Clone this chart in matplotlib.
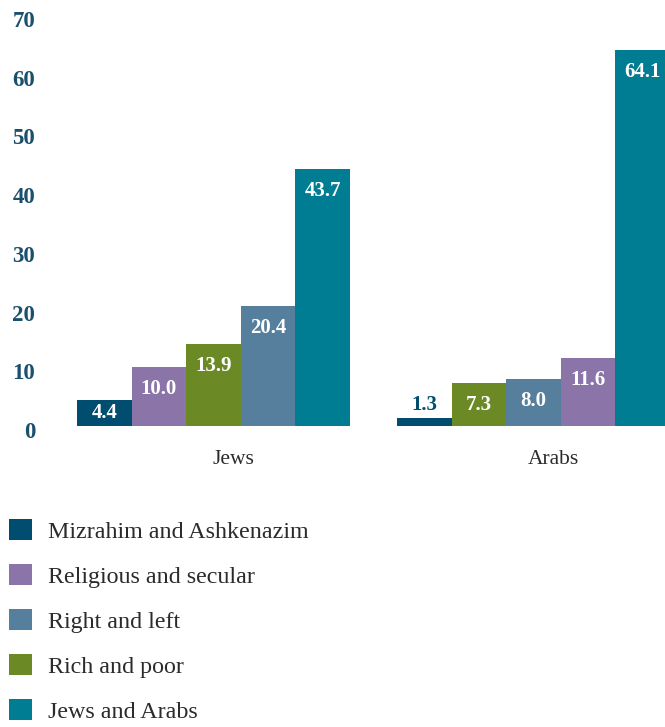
import matplotlib
matplotlib.use("Agg")
import matplotlib.pyplot as plt
from matplotlib.patches import Patch
from matplotlib.transforms import ScaledTranslation

# Share of respondents naming each tension as the most severe, by population group
groups = ["Jews", "Arabs"]
tensions = ["Mizrahim and Ashkenazim", "Religious and secular", "Right and left",
            "Rich and poor", "Jews and Arabs"]
jews_values = [4.4, 10.0, 20.4, 13.9, 43.7]
arabs_values = [1.3, 11.6, 8.0, 7.3, 64.1]
yticks = [0, 10, 20, 30, 40, 50, 60, 70]

colors = ["#004d70", "#8a74a8", "#557f9d", "#6b8a25", "#007c93"]
axis_color = "#1b4f6e"
text_color = "#2b2b2b"

W, H = 665, 727
fig = plt.figure(figsize=(W / 100, H / 100), dpi=100)
ax = fig.add_axes([45 / W, (H - 426) / H, 620 / W, 411 / H])

group_gap = 5.86
bar_w = 1.0
for g, (name, vals) in enumerate(zip(groups, [jews_values, arabs_values])):
    # bars within each group are ordered from smallest to largest
    order = sorted(range(len(vals)), key=lambda i: vals[i])
    for pos, i in enumerate(order):
        x = g * group_gap + pos
        v = vals[i]
        ax.bar(x, v, width=bar_w, color=colors[i], linewidth=0)
        h_px = v * 411 / 70
        if h_px < 20:
            ax.annotate(f"{v:.1f}", xy=(x, v), xytext=(0, 13 * 0.72),
                        textcoords="offset points", ha="center", va="center",
                        fontsize=15, fontweight="bold", color=colors[0],
                        family="Liberation Serif")
        else:
            off = min(22, h_px / 2)
            ax.annotate(f"{v:.1f}", xy=(x, v), xytext=(0, -off * 0.72),
                        textcoords="offset points", ha="center", va="center",
                        fontsize=15, fontweight="bold", color="white",
                        family="Liberation Serif")

ax.set_ylim(0, 70)
ax.set_xlim(-1.086, 10.27)
ax.set_yticks(yticks)
ax.set_xticks([g * group_gap + 2.37 for g in range(len(groups))])
ax.tick_params(axis="both", length=0)
ax.tick_params(axis="y", pad=7)
ax.tick_params(axis="x", pad=17)
ax.set_yticklabels([str(t) for t in yticks], family="Liberation Serif",
                   fontweight="bold", fontsize=16.5, color=axis_color)
ax.set_xticklabels(groups, family="Liberation Serif", fontsize=15.5, color=text_color)
shift = ScaledTranslation(0, -4 / 100, fig.dpi_scale_trans)
for lab in ax.get_yticklabels():
    lab.set_transform(lab.get_transform() + shift)
for s in ax.spines.values():
    s.set_visible(False)

handles = [Patch(facecolor=c, edgecolor="none") for c in colors]
fig.legend(handles, tensions, loc="upper left",
           bbox_to_anchor=(9 / W, 1 - 519 / H), frameon=False,
           prop={"family": "Liberation Serif", "size": 17.3},
           labelcolor=text_color, handlelength=0.96, handleheight=0.96,
           handletextpad=0.66, labelspacing=0.89, borderpad=0, borderaxespad=0)

fig.savefig("out.png", dpi=100)
